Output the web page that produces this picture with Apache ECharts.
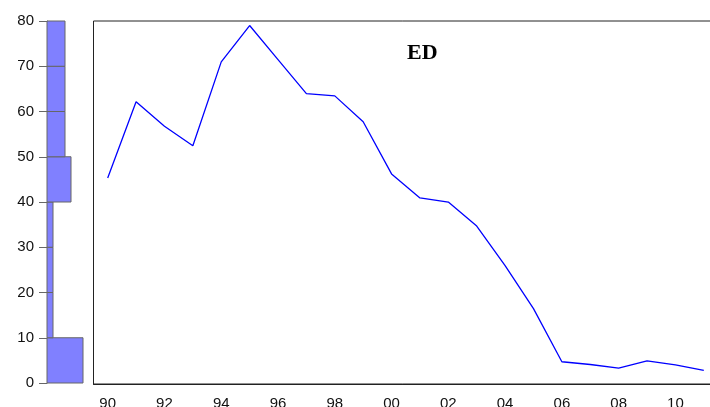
<!DOCTYPE html>
<html lang="en">
<head>
    <meta charset="UTF-8">
    <title>ED</title>
    <script src="https://cdn.jsdelivr.net/npm/echarts@6/dist/echarts.min.js"></script>
</head>
<style>
    html, body { margin: 0; padding: 0; background: #fff; }
    #main { width: 710px; height: 407px; }
</style>
<body>
<div id="main"></div>
<script>
    // yearly values, 1990 - 2011
    var years = ['1990', '1991', '1992', '1993', '1994', '1995', '1996', '1997', '1998', '1999', '2000',
                 '2001', '2002', '2003', '2004', '2005', '2006', '2007', '2008', '2009', '2010', '2011'];
    var edValues = [45.4, 62.2, 56.8, 52.5, 71.0, 79.0, 71.5, 64.0, 63.5, 57.8, 46.3,
                    41.0, 40.1, 34.8, 26.1, 16.6, 4.9, 4.3, 3.5, 5.1, 4.2, 3.0];

    // histogram on the left: bin edges and counts
    var binStarts = [0, 10, 20, 30, 40, 50, 60, 70];
    var binEnds = [10, 20, 30, 40, 50, 60, 70, 80];
    var binCounts = [6, 1, 1, 1, 4, 3, 3, 3];

    var yTicks = [0, 10, 20, 30, 40, 50, 60, 70, 80];

    var histData = [];
    for (var i = 0; i < binStarts.length; i++) {
        histData.push([binStarts[i], binEnds[i], binCounts[i]]);
    }

    var chart = echarts.init(document.getElementById('main'));
    var option = {
        animation: false,
        title: {
            text: 'ED',
            left: 402,
            top: 37,
            textStyle: {
                fontFamily: 'Liberation Serif',
                fontWeight: 'bold',
                fontSize: 22,
                color: '#000'
            }
        },
        grid: [
            { left: 47, top: 21, width: 36, height: 362, outerBoundsMode: 'none' },
            { left: 93.5, top: 21, right: -8, height: 363, outerBoundsMode: 'none',
              show: true, borderColor: '#222', borderWidth: 1 }
        ],
        xAxis: [
            {
                gridIndex: 0, type: 'value', min: 0, max: 6, show: false
            },
            {
                gridIndex: 1,
                type: 'category',
                data: years,
                boundaryGap: true,
                axisLine: { lineStyle: { color: '#222', width: 1 } },
                axisTick: { interval: 0, length: 7, lineStyle: { color: '#222' } },
                axisLabel: {
                    interval: 1,
                    margin: 12,
                    fontFamily: 'Liberation Sans',
                    fontSize: 15,
                    color: '#111',
                    formatter: function (v) { return v.slice(2); }
                },
                splitLine: { show: false }
            }
        ],
        yAxis: [
            {
                gridIndex: 0,
                type: 'value',
                min: yTicks[0],
                max: yTicks[yTicks.length - 1],
                interval: 10,
                axisLine: { show: true, lineStyle: { color: '#777', width: 1 } },
                axisTick: { show: true, length: 8, lineStyle: { color: '#666' } },
                axisLabel: {
                    margin: 13,
                    fontFamily: 'Liberation Sans',
                    fontSize: 15,
                    color: '#111'
                },
                splitLine: { show: false }
            },
            {
                gridIndex: 1, type: 'value', min: 0, max: 80, show: false
            }
        ],
        series: [
            {
                type: 'custom',
                xAxisIndex: 0,
                yAxisIndex: 0,
                data: histData,
                renderItem: function (params, api) {
                    var p0 = api.coord([0, api.value(0)]);
                    var p1 = api.coord([api.value(2), api.value(1)]);
                    return {
                        type: 'rect',
                        shape: { x: p0[0], y: p1[1], width: p1[0] - p0[0], height: p0[1] - p1[1] },
                        style: { fill: '#8080ff', stroke: '#666', lineWidth: 1 }
                    };
                }
            },
            {
                type: 'line',
                xAxisIndex: 1,
                yAxisIndex: 1,
                data: edValues,
                symbol: 'none',
                lineStyle: { color: '#0000ff', width: 1.3 }
            }
        ]
    };
    chart.setOption(option);
</script>
</body>
</html>
